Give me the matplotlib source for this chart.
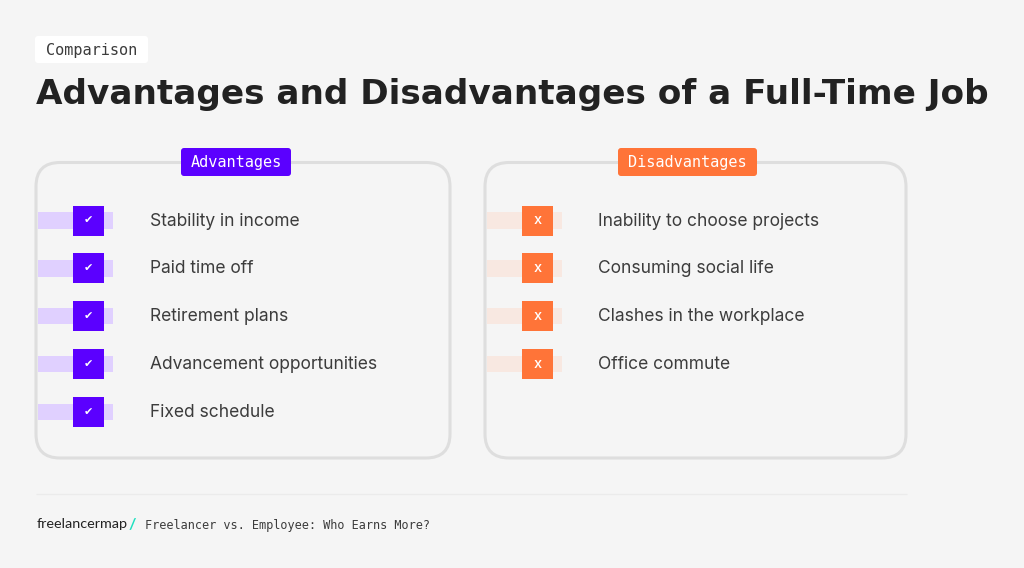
#!/usr/bin/env python
# -*- coding: utf-8 -*-

import matplotlib
matplotlib.use("Agg")
import matplotlib.pyplot as plt
from matplotlib.patches import FancyBboxPatch, Rectangle

tag_label = "Comparison"
title = "Advantages and Disadvantages of a Full-Time Job"
adv_title = "Advantages"
dis_title = "Disadvantages"
advantages = ["Stability in income", "Paid time off", "Retirement plans",
              "Advancement opportunities", "Fixed schedule"]
disadvantages = ["Inability to choose projects", "Consuming social life",
                 "Clashes in the workplace", "Office commute"]
logo_name = "freelancermap"
logo_slash = "/"
footer_note = "Freelancer vs. Employee: Who Earns More?"

BG = "#f5f5f5"
DARK = "#222222"
TEXT = "#3c3c3c"
BORDER = "#dedede"
PURPLE = "#5b00ff"
PURPLE_LIGHT = "#e0d0ff"
ORANGE = "#ff7438"
ORANGE_LIGHT = "#f8e8e1"
MONO = "DejaVu Sans Mono"
BODY = "Inter"


def rounded(ax, x0, y0, x1, y1, radius, **kw):
    patch = FancyBboxPatch((x0 + radius, y0 + radius), x1 - x0 - 2 * radius, y1 - y0 - 2 * radius,
                           boxstyle=f"round,pad={radius},rounding_size={radius}", **kw)
    ax.add_patch(patch)


def draw_panel(ax, x0, x1, pill_x, header, items, color, light, mark, mark_size):
    # cadre
    rounded(ax, x0, 162.5, x1, 458, 24, facecolor="none", edgecolor=BORDER, linewidth=2.2, zorder=1)

    # pastille du titre
    half = 55 if len(header) < 11 else 69.5
    rounded(ax, pill_x - half, 148, pill_x + half, 176, 3, facecolor=color, edgecolor="none", zorder=2)
    ax.text(pill_x, 162, header, color="white", fontsize=11, family=MONO, ha="center", va="center", zorder=3)

    # lignes
    for i, item in enumerate(items):
        y = 220.5 + i * 47.8
        ax.add_patch(Rectangle((x0 + 2, y - 8.2), 74.5, 16.5, facecolor=light, edgecolor="none", zorder=2))
        ax.add_patch(Rectangle((x0 + 37.3, y - 15), 30.4, 30, facecolor=color, edgecolor="none", zorder=3))
        ax.text(x0 + 52.2, y, mark, color="white", fontsize=mark_size, fontweight="medium",
                family=["Inter", "DejaVu Sans"], ha="center", va="center", zorder=4)
        ax.text(x0 + 113.5, y + 0.5, item, color=TEXT, fontsize=12.55, family=BODY, ha="left", va="center", zorder=4)


fig = plt.figure(figsize=(10.24, 5.68), dpi=100, facecolor=BG)
ax = fig.add_axes([0, 0, 1, 1])
ax.set_xlim(0, 1024)
ax.set_ylim(568, 0)
ax.axis("off")

# en-tete
rounded(ax, 35, 36, 148, 63, 3, facecolor="white", edgecolor="none")
ax.text(91.5, 50, tag_label, color=TEXT, fontsize=11, family=MONO, ha="center", va="center")
ax.text(36, 94.5, title, color=DARK, fontsize=24.7, fontweight="bold", family="DejaVu Sans",
        ha="left", va="center")

draw_panel(ax, 36, 450, 236, adv_title, advantages, PURPLE, PURPLE_LIGHT, "\u2714", 8)
draw_panel(ax, 485, 906, 687.5, dis_title, disadvantages, ORANGE, ORANGE_LIGHT, "x", 10.5)

# pied de page
ax.plot([36, 907], [494, 494], color="#ebebeb", linewidth=1, solid_capstyle="butt")
ax.text(37, 524.5, logo_name, color=DARK, fontsize=10.4, family="Lato", ha="left", va="center")
ax.text(128.5, 524.5, logo_slash, color="#1fe0c0", fontsize=11.5, fontweight="bold", family="Lato",
        ha="left", va="center")
ax.text(145, 525, footer_note, color=TEXT, fontsize=8.6, family=MONO, ha="left", va="center")

fig.savefig("out.png", dpi=100, facecolor=BG)
